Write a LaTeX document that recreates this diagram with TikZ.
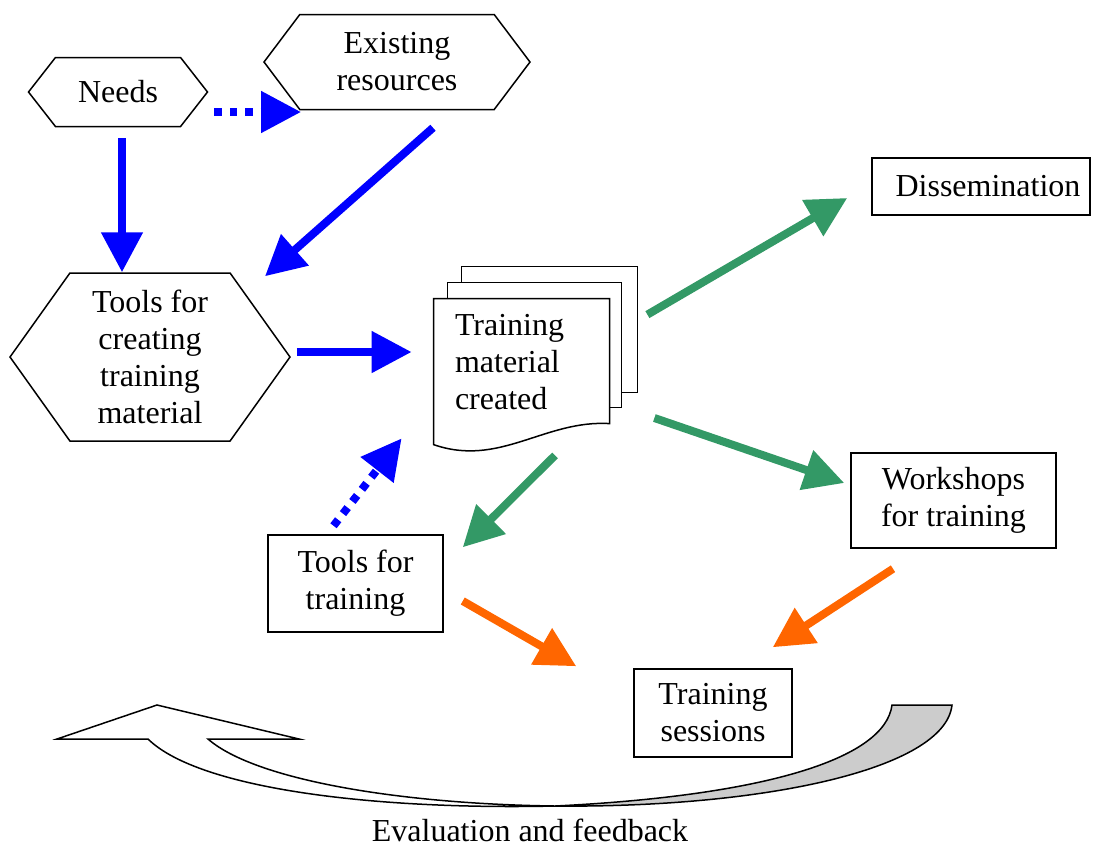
\documentclass[tikz,border=0pt]{standalone}
\usepackage{fontspec}
\setmainfont{Liberation Serif}
\usepackage{tikz}
\usetikzlibrary{shapes.symbols,arrows.meta}

\definecolor{flowblue}{RGB}{0,0,255}
\definecolor{flowgreen}{RGB}{51,153,102}
\definecolor{floworange}{RGB}{255,102,0}
\definecolor{backgrey}{RGB}{204,204,204}

\tikzset{
	hexa/.style={signal, signal to=west and east, draw, line width=0.75pt, align=center, inner sep=0pt},
	box/.style={draw, line width=0.75pt, align=center, inner sep=0pt},
	page/.style={draw, fill=white, line width=0.75pt},
	bluearrow/.style={flowblue, line width=4pt, -{Triangle[length=20pt,width=20pt]}},
	bluedots/.style={bluearrow, dash pattern=on 3.8pt off 3.9pt},
	greenarrow/.style={bluearrow, flowgreen},
	orangearrow/.style={bluearrow, floworange},
}

\begin{document}
\begin{tikzpicture}[x=0.5pt, y=-0.5pt, font=\fontsize{16}{18.5}\selectfont] % material de formacion
		\useasboundingbox (0,0) rectangle (1098,848);
		% Hexagons
		\node[hexa, minimum width=89.5pt, minimum height=34.5pt, signal pointer angle=104] (needs) at (118,92) {Needs};
		\node[hexa, minimum width=133pt, minimum height=47.5pt, signal pointer angle=106] (exist) at (397,62) {Existing\\resources};
		\node[hexa, minimum width=140pt, minimum height=84pt, signal pointer angle=109] (tcreate) at (150,357) {Tools for\\creating\\training\\material};
		% Boxes
		\node[box, minimum width=109pt, minimum height=28.5pt] (dissem) at (981,186.5) {\hspace{7pt}Dissemination};
		\node[box, minimum width=102.5pt, minimum height=47.5pt] (workshops) at (953.5,500.5) {Workshops\\for training};
		\node[box, minimum width=87.5pt, minimum height=48.5pt] (ttrain) at (355.5,583.5) {Tools for\\training};
		\node[box, minimum width=79pt, minimum height=44pt] (sessions) at (713,713) {Training\\sessions};
		% Stack of pages
		\node[minimum width=88pt, minimum height=73pt, inner sep=0pt] (doc) at (522,372) {};
		\begin{scope}[shift={(doc.north west)}]
			\draw[page] (28,-32) rectangle (204,94);
			\draw[page] (14,-16) rectangle (188,109);
			\draw[page] (0,0) -- (176,0) -- (176,125) .. controls (111,121) and (66,169) .. (0,146) -- cycle;
		\end{scope}
		\node[anchor=west, align=left, inner sep=0pt] (doctext) at ([shift={(21,-10)}]doc.west) {Training\\material\\created};
		% Blue flow
		\draw[bluearrow] ([shift={(4,11)}]needs.south) -- ([shift={(-28,0)}]tcreate.north);
		\draw[bluedots] ([shift={(6,20)}]needs.east) -- ([shift={(38,50)}]exist.west);
		\draw[bluearrow] ([shift={(36,17.5)}]exist.south) -- ([shift={(115,4)}]tcreate.north);
		\draw[bluearrow] ([shift={(6,-5)}]tcreate.east) -- ([shift={(-22,-20)}]doc.west);
		\draw[bluedots] ([shift={(-22,-8.5)}]ttrain.north) -- ([shift={(-32,-7)}]doc.south west);
		% Green flow
		\draw[greenarrow] ([shift={(37,16)}]doc.north east) -- ([shift={(-24,11.5)}]dissem.west);
		\draw[greenarrow] ([shift={(44,46)}]doc.east) -- ([shift={(-6,-17.5)}]workshops.west);
		\draw[greenarrow] ([shift={(33,10)}]doc.south) -- ([shift={(19,13)}]ttrain.north east);
		% Orange flow
		\draw[orangearrow] ([shift={(19,17.5)}]ttrain.east) -- ([shift={(-57,-2)}]sessions.north west);
		\draw[orangearrow] ([shift={(-60.5,20)}]workshops.south) -- ([shift={(-20,-21)}]sessions.north east);
		% Feedback loop
		\coordinate (twist) at (555,806);
		\draw[line width=0.75pt, fill=backgrey] (twist) .. controls (760,796) and (885,760) .. (892,705) -- (952,705) .. controls (945,770) and (760,808) .. (twist);
		\draw[line width=0.75pt, fill=white] (twist) .. controls (400,804) and (255,780) .. (208,739) -- (299,739) -- (157,705) -- (57,739) -- (148,739) .. controls (200,790) and (380,810) .. (twist);
		\node (evaltext) at (530,830) {Evaluation and feedback};
	\end{tikzpicture}
\end{document}
